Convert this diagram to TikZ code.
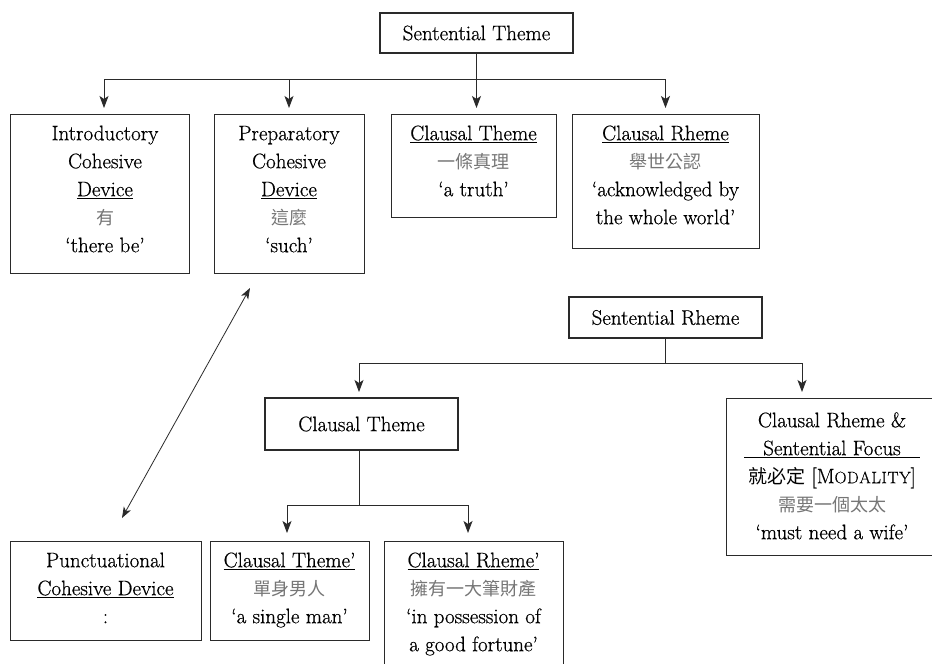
\documentclass[tikz,border=0pt]{standalone}
\usepackage{fontspec}
\setmainfont{Latin Modern Roman}[FakeBold=0.6]
\newfontfamily\cjk{Noto Sans CJK TC}
\usetikzlibrary{arrows.meta,calc}
\definecolor{cjkgray}{HTML}{767676}
\definecolor{edge}{HTML}{2A2A2A}
\newcommand\zg[1]{{\cjk\fontsize{18}{28}\selectfont\color{cjkgray}#1}}
\newcommand\zb[1]{{\cjk\fontsize{19}{28}\selectfont #1}}
\newcommand\fl{\rule{0pt}{16pt}}
\newcommand\mainsz{\fontsize{21}{28}\selectfont}
\newcommand\mysc{{M\fontsize{16.5}{28}\selectfont O\kern0.6pt D\kern0.6pt A\kern0.6pt L\kern0.6pt I\kern0.6pt T\kern0.6pt Y}}
\begin{document}
\begin{tikzpicture}[x=1pt,y=-1pt,
  box/.style={draw=edge, line width=0.9pt, inner sep=0pt, outer sep=0pt, font=\mainsz},
  thickbox/.style={box, line width=1.8pt},
  txt/.style={align=center, inner sep=0pt, anchor=north, font=\mainsz},
  conn/.style={draw=edge, line width=0.9pt},
  tip/.tip={Stealth[length=12pt,width=9pt,inset=3pt]},
  arr/.style={conn, -tip, shorten >=6pt}]
\clip (0,0) rectangle (932,664);
\fill[white] (0,0) rectangle (932,664);
% top tree
\node[thickbox, minimum width=193pt, minimum height=40pt] (ST) at (476.5,33) {Sentential Theme};
\node[box, minimum width=179pt, minimum height=159pt] (ICD) at (99.5,193.5) {};
\node[txt] (ICDt) at (105,124) {\fl Introductory\\Cohesive\\\underline{Device}\\\zg{有}\\‘there be’};
\node[box, minimum width=150pt, minimum height=159pt] (PCD) at (289,193.5) {};
\node[txt] (PCDt) at (289,124) {\fl Preparatory\\Cohesive\\\underline{Device}\\\zg{這麼}\\‘such’};
\node[box, minimum width=165pt, minimum height=103pt] (CT1) at (473.5,165.5) {};
\node[txt] (CT1t) at (473.5,124) {\fl\underline{Clausal Theme}\\\zg{一條真理}\\‘a truth’};
\node[box, minimum width=187pt, minimum height=134pt] (CR1) at (665.5,181) {};
\node[txt] (CR1t) at (665.5,124) {\fl\underline{Clausal Rheme}\\\zg{舉世公認}\\‘acknowledged by\\the whole world’};
% lower tree
\node[thickbox, minimum width=193pt, minimum height=41pt] (SR) at (665.5,317.5) {Sentential Rheme};
\node[thickbox, minimum width=193pt, minimum height=52pt] (CT2) at (361.5,424) {Clausal Theme};
\node[box, minimum width=216pt, minimum height=157pt] (CRSF) at (834,476.5) {};
\node[txt] (CRSFt) at (832,411) {\fl Clausal Rheme \&\\\underline{\makebox[176pt]{Sentential Focus}}\\\zb{就必定}\ [\mysc]\\\zg{需要一個太太}\hspace*{18pt}\\‘must need a wife’};
\node[box, minimum width=191pt, minimum height=99pt] (PunCD) at (105.5,590.5) {};
\node[txt] (PunCDt) at (105.5,551) {\fl Punctuational\\\underline{Cohesive Device}\\:};
\node[box, minimum width=159pt, minimum height=99pt] (CTp) at (289.5,590.5) {};
\node[txt] (CTpt) at (289.5,551) {\fl\underline{Clausal Theme’}\\\zg{單身男人}\\‘a single man’};
\node[box, minimum width=179pt, minimum height=149pt] (CRp) at (473.5,615.5) {};
\node[txt] (CRpt) at (473.5,551) {\fl\underline{Clausal Rheme’}\\\zg{擁有一大筆財產}\\‘in possession of\\a good fortune’};
% connectors
\coordinate (j1) at (476.5,79);
\draw[conn] (ST.south) -- (j1);
\draw[arr] (j1) -| ([xshift=4.5pt]ICD.north);
\draw[arr] (j1) -| (PCD.north);
\draw[arr] (j1) -- ([xshift=3pt]CT1.north);
\draw[arr] (j1) -| (CR1.north);
\draw[conn, line width=0.8pt, {Stealth[length=11pt,width=8pt,inset=3pt]}-{Stealth[length=11pt,width=8pt,inset=3pt]}]
  ([xshift=-39pt,yshift=-15pt]PCD.south) -- ([xshift=16.5pt,yshift=23pt]PunCD.north);
\coordinate (j2) at (665.5,363);
\draw[conn] (SR.south) -- (j2);
\draw[arr] (j2) -| ([xshift=-2.5pt]CT2.north);
\draw[arr] (j2) -| ([xshift=-32pt]CRSF.north);
\coordinate (j3) at (359,505);
\draw[conn] ([xshift=-2.5pt]CT2.south) -- (j3);
\draw[arr, shorten >=8pt] (j3) -| ([xshift=-2.5pt]CTp.north);
\draw[arr, shorten >=8pt] (j3) -| ([xshift=-5.5pt]CRp.north);
\end{tikzpicture}
\end{document}
